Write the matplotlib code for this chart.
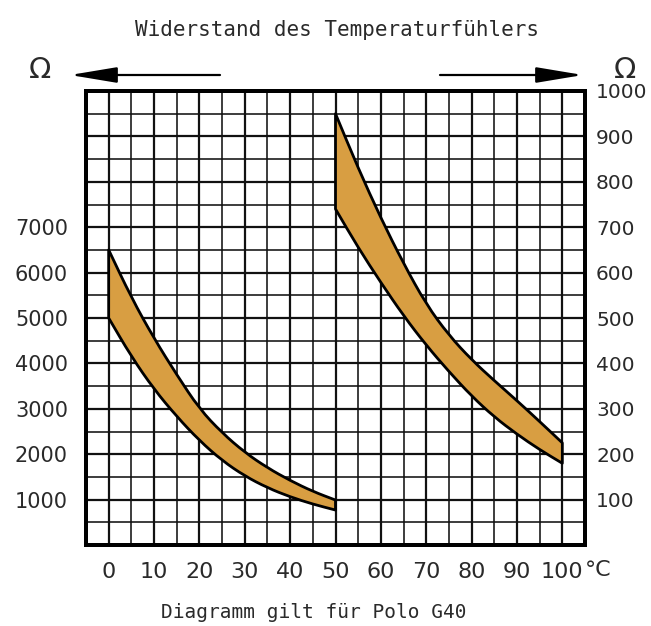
import numpy as np
import matplotlib
matplotlib.use('Agg')
import matplotlib.pyplot as plt
from matplotlib.path import Path
from matplotlib.patches import PathPatch, FancyArrowPatch

# sensor resistance bands
temp_low = [0, 5, 10, 15, 20, 25, 30, 35, 40, 45, 50]
upper_low = [6500, 5450, 4550, 3750, 3000, 2470, 2040, 1700, 1420, 1180, 990]
lower_low = [5000, 4150, 3430, 2830, 2300, 1860, 1520, 1260, 1060, 900, 770]

temp_high = [50, 55, 60, 65, 70, 75, 80, 85, 90, 95, 100]
upper_high = [950, 830, 720, 620, 530, 462, 408, 362, 318, 272, 225]
lower_high = [740, 655, 578, 505, 440, 382, 328, 282, 244, 210, 180]

x_ticks = [0, 10, 20, 30, 40, 50, 60, 70, 80, 90, 100]
left_ticks = [1000, 2000, 3000, 4000, 5000, 6000, 7000]
right_ticks = [100, 200, 300, 400, 500, 600, 700, 800, 900, 1000]

band_col = '#d89e42'
txt_col = '#2a2a2a'
plt.rcParams['hatch.linewidth'] = 0.4
plt.rcParams['hatch.color'] = '#a8742c'


def smooth_verts(xs, ys):
    # quadratic bezier through the midpoints, read points act as controls
    pts = list(zip(xs, ys))
    verts = [pts[0], ((pts[0][0] + pts[1][0]) / 2, (pts[0][1] + pts[1][1]) / 2)]
    codes = [Path.LINETO, Path.LINETO]
    for i in range(1, len(pts) - 1):
        mid = ((pts[i][0] + pts[i + 1][0]) / 2, (pts[i][1] + pts[i + 1][1]) / 2)
        verts += [pts[i], mid]
        codes += [Path.CURVE3, Path.CURVE3]
    verts.append(pts[-1])
    codes.append(Path.LINETO)
    return verts, codes


def band(a, t, up, lo):
    v1, c1 = smooth_verts(t, up)
    v2, c2 = smooth_verts(t[::-1], lo[::-1])
    verts = v1 + v2 + [v1[0]]
    codes = [Path.MOVETO] + c1[1:] + c2 + [Path.CLOSEPOLY]
    p = Path(verts, codes)
    a.add_patch(PathPatch(p, facecolor=band_col, edgecolor='none', hatch='xxxx', lw=0, zorder=3))
    a.add_patch(PathPatch(p, facecolor='none', edgecolor='black', lw=2.0, zorder=4,
                          joinstyle='round'))


fig = plt.figure(figsize=(6.51, 6.26), dpi=100)
ax = fig.add_axes([86/651, 81/626, 499/651, 454/626])
ax.set_xlim(-5, 105)
ax.set_ylim(0, 10000)
ax2 = ax.twinx()
ax2.set_ylim(0, 1000)

# grid paper
for gx in np.arange(0, 105, 5):
    ax.axvline(gx, color='#111111', lw=1.6 if gx % 10 == 0 else 1.15, zorder=1)
for gy in np.arange(500, 10000, 500):
    ax.axhline(gy, color='#111111', lw=1.6 if gy % 1000 == 0 else 1.15, zorder=1)

band(ax, temp_low, upper_low, lower_low)
band(ax2, temp_high, upper_high, lower_high)

for a in (ax, ax2):
    for s in a.spines.values():
        s.set_linewidth(2.8)
        s.set_zorder(5)

ax.set_xticks(x_ticks)
ax.set_xticklabels([str(v) for v in x_ticks], fontsize=16, color=txt_col)
ax.set_yticks(left_ticks)
ax.set_yticklabels([str(v) for v in left_ticks], fontsize=15, color=txt_col)
ax2.set_yticks(right_ticks)
ax2.set_yticklabels([str(v) for v in right_ticks], fontsize=14.5, color=txt_col)
ax.tick_params(axis='x', length=0, pad=12)
ax.tick_params(axis='y', length=0, pad=13)
ax2.tick_params(axis='y', length=0, pad=8)

ax.annotate('°C', xy=(100, 0), xycoords=('data', 'axes fraction'),
            xytext=(16, -11), textcoords='offset points',
            fontsize=16, color=txt_col, va='top', ha='left')

# header
fig.text(337/651, 1 - 30/626, 'Widerstand des Temperaturfühlers',
         family='DejaVu Sans Mono', fontsize=15, color=txt_col,
         ha='center', va='center')
fig.text(40/651, 1 - 70/626, 'Ω', fontsize=21, color=txt_col, ha='center', va='center')
fig.text(625/651, 1 - 70/626, 'Ω', fontsize=21, color=txt_col, ha='center', va='center')
arr = dict(arrowstyle='-|>,head_length=1.8,head_width=0.3', lw=1.6,
           color='black', mutation_scale=16, shrinkA=0, shrinkB=0)
fig.add_artist(FancyArrowPatch((220/651, 1 - 75/626), (70/651, 1 - 75/626),
                               transform=fig.transFigure, **arr))
fig.add_artist(FancyArrowPatch((440/651, 1 - 75/626), (583/651, 1 - 75/626),
                               transform=fig.transFigure, **arr))

fig.text(314/651, 1 - 612/626, 'Diagramm gilt für Polo G40',
         family='DejaVu Sans Mono', fontsize=14, color=txt_col,
         ha='center', va='center')

fig.savefig('out.png', dpi=100, facecolor='white')
